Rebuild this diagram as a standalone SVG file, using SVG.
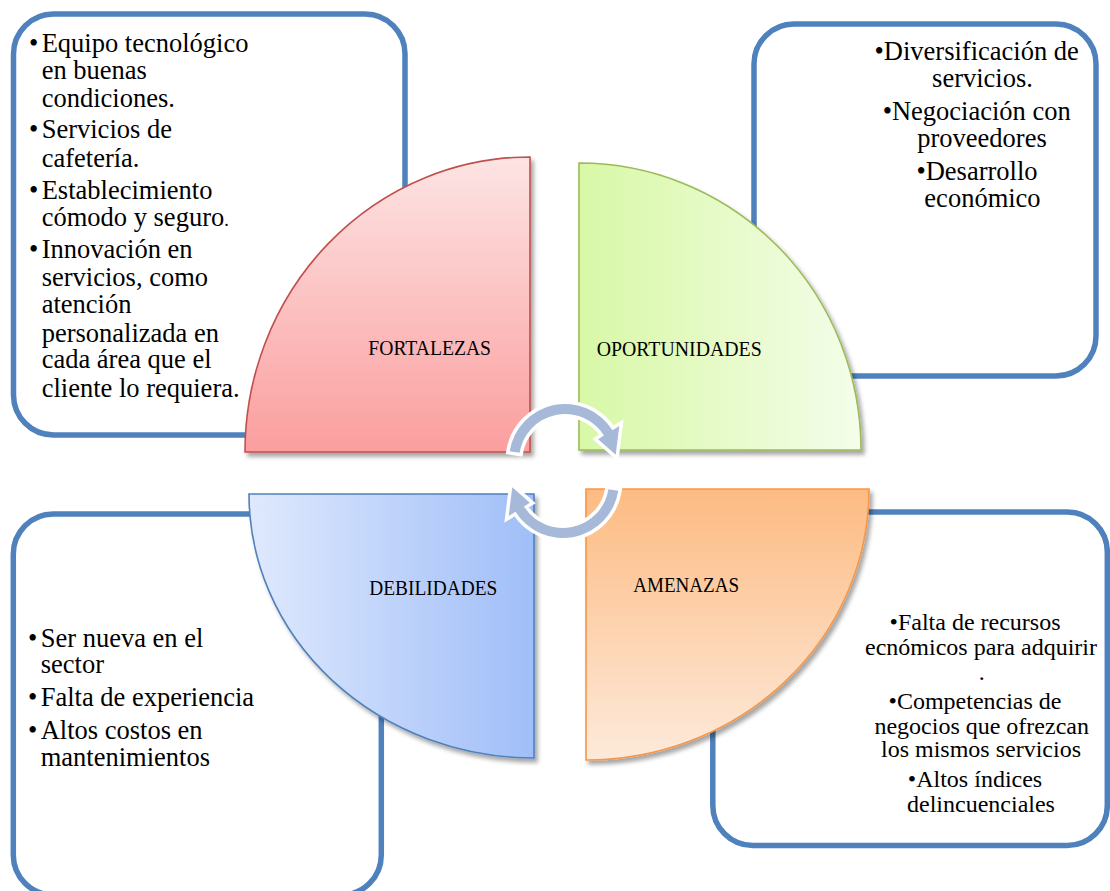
<svg xmlns="http://www.w3.org/2000/svg" width="1110" height="891" viewBox="0 0 1110 891">
<defs>
<style>
.box{fill:#ffffff;stroke:#4f81bd;stroke-width:5.5}
.t{font-family:"Liberation Serif","Times New Roman",serif;font-size:26.5px;fill:#000}
.ts{font-family:"Liberation Serif","Times New Roman",serif;font-size:24px;fill:#000}
.lbl{font-family:"Liberation Serif","Times New Roman",serif;font-size:21px;fill:#000}
.q{stroke-width:1.6;filter:url(#sh)}
.arr{fill:#a7b9d9;stroke:#ffffff;stroke-width:7;paint-order:stroke;stroke-linejoin:miter}
</style>
<filter id="sh" x="-10%" y="-10%" width="125%" height="125%">
<feDropShadow dx="3" dy="4" stdDeviation="2.2" flood-color="#000" flood-opacity="0.35"/>
</filter>
<linearGradient id="gF" x1="0" y1="0" x2="0" y2="1"><stop offset="0" stop-color="#fde4e4"/><stop offset="1" stop-color="#fb9e9e"/></linearGradient>
<linearGradient id="gO" x1="0" y1="0" x2="1" y2="0"><stop offset="0" stop-color="#d8f8a6"/><stop offset="1" stop-color="#f4fdea"/></linearGradient>
<linearGradient id="gA" x1="0" y1="0" x2="0" y2="1"><stop offset="0" stop-color="#fdbb82"/><stop offset="1" stop-color="#fdeadb"/></linearGradient>
<linearGradient id="gD" x1="0" y1="0" x2="1" y2="0"><stop offset="0" stop-color="#dfe9fd"/><stop offset="1" stop-color="#a0bef8"/></linearGradient>
</defs>
<rect width="1110" height="891" fill="#ffffff"/>

<g id="box-fortalezas">
<rect class="box" x="13.5" y="14" width="391.5" height="421" rx="40"/>
<text class="t" y="51.7"><tspan x="29">•</tspan><tspan x="41.7">Equipo tecnológico</tspan></text>
<text class="t" x="41.7" y="79">en buenas</text>
<text class="t" x="41.7" y="106.7">condiciones.</text>
<text class="t" y="138.3"><tspan x="29">•</tspan><tspan x="41.7">Servicios de</tspan></text>
<text class="t" x="41.7" y="166.7">cafetería.</text>
<text class="t" y="199.3"><tspan x="29">•</tspan><tspan x="41.7">Establecimiento</tspan></text>
<text class="t" x="41.7" y="226">cómodo y seguro<tspan font-size="18">.</tspan></text>
<text class="t" y="258.3"><tspan x="29">•</tspan><tspan x="41.7">Innovación en</tspan></text>
<text class="t" x="41.7" y="286">servicios, como</text>
<text class="t" x="41.7" y="313.3">atención</text>
<text class="t" x="41.7" y="341.7">personalizada en</text>
<text class="t" x="41.7" y="368.3">cada área que el</text>
<text class="t" x="41.7" y="396.7">cliente lo requiera.</text>
</g>

<g id="box-oportunidades">
<rect class="box" x="754" y="24" width="342" height="352" rx="40"/>
<g text-anchor="middle">
<text class="t" x="976.7" y="60">•Diversificación de</text>
<text class="t" x="982.5" y="86.7">servicios.</text>
<text class="t" x="976.7" y="120">•Negociación con</text>
<text class="t" x="982" y="146.7">proveedores</text>
<text class="t" x="977" y="180">•Desarrollo</text>
<text class="t" x="982.5" y="206.7">económico</text>
</g>
</g>

<g id="box-debilidades">
<rect class="box" x="13.3" y="514" width="368" height="381" rx="40"/>
<text class="t" y="646.7"><tspan x="28">•</tspan><tspan x="40.7">Ser nueva en el</tspan></text>
<text class="t" x="40.7" y="673.3">sector</text>
<text class="t" y="706"><tspan x="28">•</tspan><tspan x="40.7">Falta de experiencia</tspan></text>
<text class="t" y="739.3"><tspan x="28">•</tspan><tspan x="40.7">Altos costos en</tspan></text>
<text class="t" x="40.7" y="766">mantenimientos</text>
</g>

<g id="box-amenazas">
<rect class="box" x="712.8" y="512" width="394.5" height="333.5" rx="40"/>
<g text-anchor="middle">
<text class="ts" x="975" y="630">•Falta de recursos</text>
<text class="ts" x="981" y="655">ecnómicos para adquirir</text>
<text class="ts" x="981.7" y="680">.</text>
<text class="ts" x="975" y="709.3">•Competencias de</text>
<text class="ts" x="981.7" y="734">negocios que ofrezcan</text>
<text class="ts" x="981" y="757.3">los mismos servicios</text>
<text class="ts" x="975" y="786.7">•Altos índices</text>
<text class="ts" x="981" y="811.7">delincuenciales</text>
</g>
</g>

<g id="quad-fortalezas">
<path class="q" d="M 530 157 L 530 452 L 245 452 A 285 295 0 0 1 530 157 Z" fill="url(#gF)" stroke="#c0504d"/>
<text class="lbl" x="368.3" y="355" textLength="122.7" lengthAdjust="spacingAndGlyphs">FORTALEZAS</text>
</g>
<g id="quad-oportunidades">
<path class="q" d="M 579 450 L 579 163 A 282 287 0 0 1 861 450 Z" fill="url(#gO)" stroke="#9bbb59"/>
<text class="lbl" x="596.7" y="355.7" textLength="165" lengthAdjust="spacingAndGlyphs">OPORTUNIDADES</text>
</g>
<g id="quad-amenazas">
<path class="q" d="M 586 489 L 869 489 A 283 271 0 0 1 586 760 Z" fill="url(#gA)" stroke="#f79646"/>
<text class="lbl" x="633.3" y="591.7" textLength="105.7" lengthAdjust="spacingAndGlyphs">AMENAZAS</text>
</g>
<g id="quad-debilidades">
<path class="q" d="M 249 494 L 534 494 L 534 758 A 285 264 0 0 1 249 494 Z" fill="url(#gD)" stroke="#4f81bd"/>
<text class="lbl" x="369.3" y="595" textLength="128" lengthAdjust="spacingAndGlyphs">DEBILIDADES</text>
</g>

<g id="connectors">
<path class="arr" d="M 509.7 451.2 A 56 56 0 0 1 612.5 430.3 L 619.3 426.1 L 615.7 454.7 L 598.1 439.3 L 604.0 435.6 A 46 46 0 0 0 519.6 452.8 Z"/>
<path class="arr" transform="rotate(180 564 471)" d="M 509.7 451.2 A 56 56 0 0 1 612.5 430.3 L 619.3 426.1 L 615.7 454.7 L 598.1 439.3 L 604.0 435.6 A 46 46 0 0 0 519.6 452.8 Z"/>
</g>
</svg>
